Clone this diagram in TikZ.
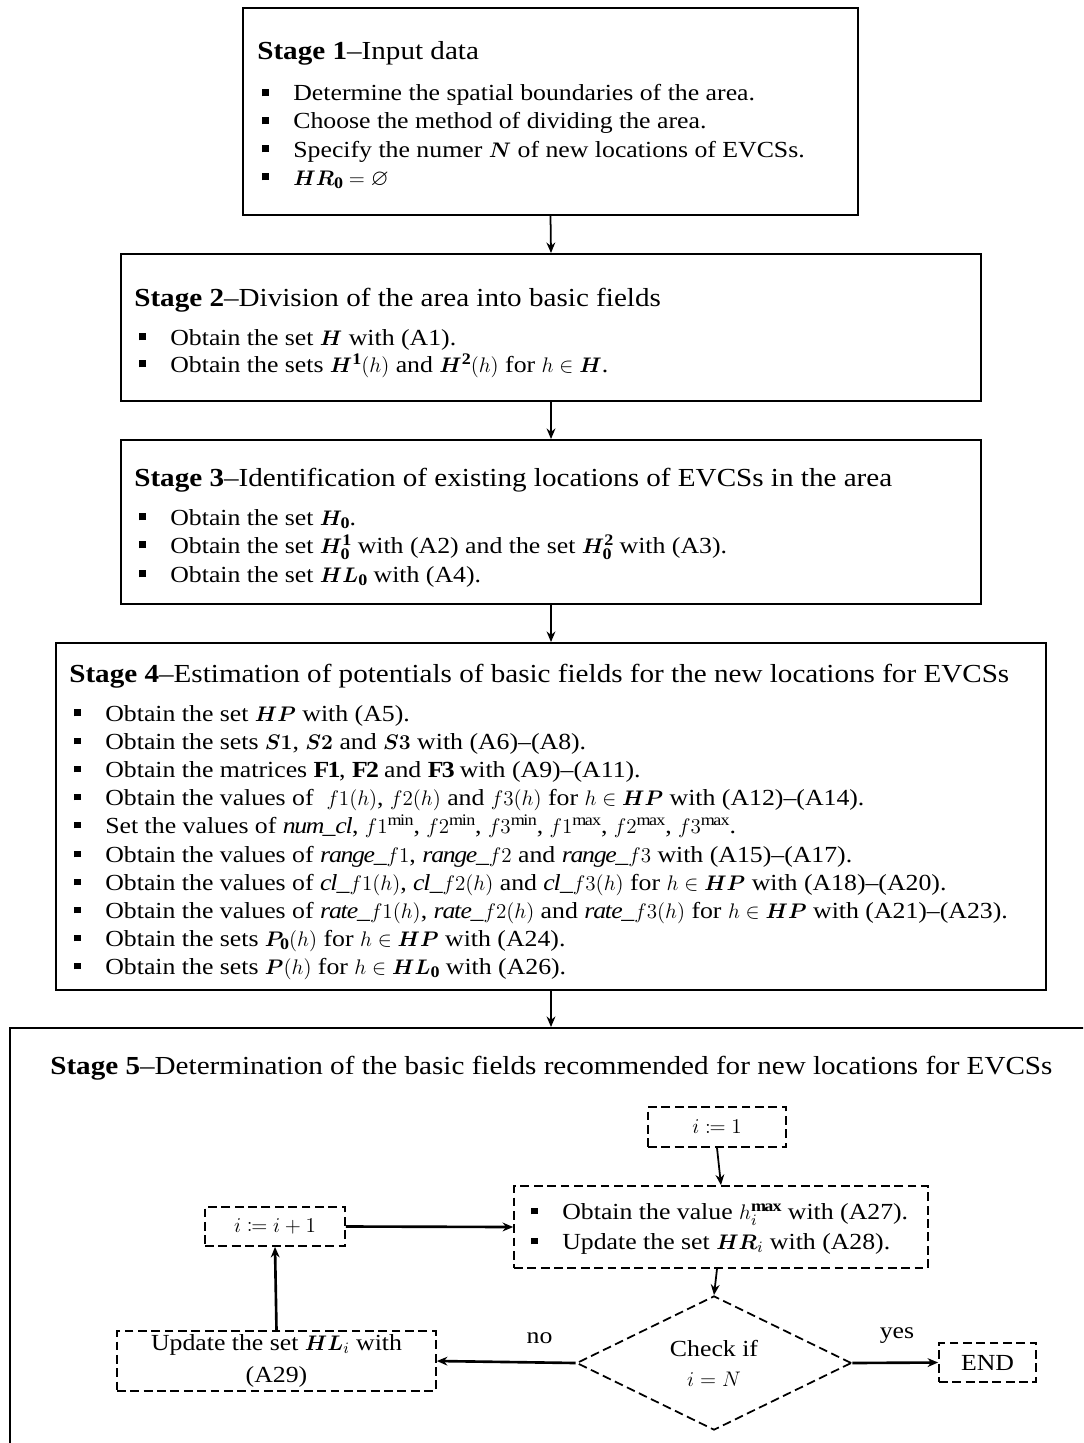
\documentclass[tikz,border=0pt]{standalone}
\usepackage{amsmath,amssymb,mathtools,bm}
\usepackage{fontspec}
\setmainfont{Liberation Serif}[FakeStretch=1.12]
\usetikzlibrary{arrows.meta,shapes.geometric,fit}
\newcommand\bodyfont{\fontsize{13.1}{16}\selectfont}
\newcommand\titlefont{\fontsize{14.8}{18}\selectfont}
\newcommand\sq{\makebox[0.62cm][l]{\rule[0.2em]{0.3em}{0.3em}}}
\newcommand\stg[2]{\textbf{Stage #1}–#2}
\begin{document}
\begin{tikzpicture}[x=0.02cm,y=-0.02cm,
  box/.style={draw, line width=1.1pt, inner sep=0pt},
  dbox/.style={draw, line width=1pt, dash pattern=on 5pt off 2.6pt, inner sep=2pt, font=\bodyfont, align=center},
  ln/.style={anchor=base west, inner sep=0pt, font=\bodyfont},
  ttl/.style={anchor=base west, inner sep=0pt, font=\titlefont},
  lab/.style={inner sep=0pt, font=\bodyfont},
  arr/.style={-{Stealth[length=6pt,width=5pt]}, line width=1pt},
  arrb/.style={-{Stealth[length=6pt,width=5pt]}, line width=1.5pt}]
\useasboundingbox (0,0) rectangle (1083,1443);
\fill[white] (0,0) rectangle (1083,1443);
\clip (0,0) rectangle (1083,1443);

% Stage boxes
\node[box, fit={(243,8) (858,215)}] (s1) {};
\node[box, fit={(121,254) (981,401)}] (s2) {};
\node[box, fit={(121,440) (981,604)}] (s3) {};
\node[box, fit={(56,643) (1046,990)}] (s4) {};
\node[box, fit={(10,1028) (1100,1480)}] (s5) {};

\draw[arr] (s1.south) -- (s2.north);
\draw[arr] (s2.south) -- (s3.north);
\draw[arr] (s3.south) -- (s4.north);
\draw[arr] (s4.south) -- (s4.south |- s5.north);

% Stage 1
\node[ttl] (t1) at (257,60) {\stg{1}{Input data}};
\node[ln] (l1a) at (262,101) {\sq Determine the spatial boundaries of the area.};
\node[ln] (l1b) at (262,129) {\sq Choose the method of dividing the area.};
\node[ln] (l1c) at (262,157) {\sq Specify the numer $\bm{N}$ of new locations of EVCSs.};
\node[ln] (l1d) at (262,185) {\sq $\bm{HR}_{\mathbf{0}}=\varnothing$};

% Stage 2
\node[ttl] (t2) at (134,306) {\stg{2}{Division of the area into basic fields}};
\node[ln] (l2a) at (139,345) {\sq Obtain the set $\bm{H}$ with (A1).};
\node[ln] (l2b) at (139,372) {\sq Obtain the sets $\bm{H}^{\mathbf{1}}(h)$ and $\bm{H}^{\mathbf{2}}(h)$ for $h\in\bm{H}$.};

% Stage 3
\node[ttl] (t3) at (134,486) {\stg{3}{Identification of existing locations of EVCSs in the area}};
\node[ln] (l3a) at (139,525) {\sq Obtain the set $\bm{H}_{\mathbf{0}}$.};
\node[ln] (l3b) at (139,553) {\sq Obtain the set $\bm{H}_{\mathbf{0}}^{\mathbf{1}}$ with (A2) and the set $\bm{H}_{\mathbf{0}}^{\mathbf{2}}$ with (A3).};
\node[ln] (l3c) at (139,582) {\sq Obtain the set $\bm{HL}_{\mathbf{0}}$ with (A4).};

% Stage 4
\node[ttl] (t4) at (69,682) {\stg{4}{Estimation of potentials of basic fields for the new locations for EVCSs}};
\node[ln] (l4a) at (74,721) {\sq Obtain the set $\bm{HP}$ with (A5).};
\node[ln] (l4b) at (74,749) {\sq Obtain the sets $\bm{S1}$, $\bm{S2}$ and $\bm{S3}$ with (A6)–(A8).};
\node[ln] (l4c) at (74,777) {\sq Obtain the matrices $\mathbf{F1}$, $\mathbf{F2}$ and $\mathbf{F3}$ with (A9)–(A11).};
\node[ln] (l4d) at (74,805) {\sq Obtain the values of \ $f1(h)$, $f2(h)$ and $f3(h)$ for $h\in\bm{HP}$ with (A12)–(A14).};
\node[ln] (l4e) at (74,833) {\sq Set the values of $\mathit{num\_cl}$, $f1^{\min}$, $f2^{\min}$, $f3^{\min}$, $f1^{\max}$, $f2^{\max}$, $f3^{\max}$.};
\node[ln] (l4f) at (74,862) {\sq Obtain the values of $\mathit{range\_}f1$, $\mathit{range\_}f2$ and $\mathit{range\_}f3$ with (A15)–(A17).};
\node[ln] (l4g) at (74,890) {\sq Obtain the values of $\mathit{cl\_}f1(h)$, $\mathit{cl\_}f2(h)$ and $\mathit{cl\_}f3(h)$ for $h\in\bm{HP}$ with (A18)–(A20).};
\node[ln] (l4h) at (74,918) {\sq Obtain the values of $\mathit{rate\_}f1(h)$, $\mathit{rate\_}f2(h)$ and $\mathit{rate\_}f3(h)$ for $h\in\bm{HP}$ with (A21)–(A23).};
\node[ln] (l4i) at (74,946) {\sq Obtain the sets $\bm{P}_{\mathbf{0}}(h)$ for $h\in\bm{HP}$ with (A24).};
\node[ln] (l4j) at (74,974) {\sq Obtain the sets $\bm{P}(h)$ for $h\in\bm{HL}_{\mathbf{0}}$ with (A26).};

% Stage 5
\node[ttl] (t5) at (50,1074) {\stg{5}{Determination of the basic fields recommended for new locations for EVCSs}};

\node[dbox, minimum width=2.76cm, minimum height=0.8cm] (i1) at (717,1127) {$i\coloneqq 1$};
\node[dbox, minimum width=8.28cm, minimum height=1.64cm] (m) at (721,1227) {};
\node[ln] (ma) at (531,1219) {\sq Obtain the value $h_i^{\mathbf{max}}$ with (A27).};
\node[ln] (mb) at (531,1249) {\sq Update the set $\bm{HR}_i$ with (A28).};
\node[dbox, minimum width=2.8cm, minimum height=0.78cm] (inc) at (275,1226.5) {$i\coloneqq i+1$};
\node[draw, diamond, line width=1pt, dash pattern=on 5pt off 2.6pt, inner sep=0pt,
      minimum width=5.5cm, minimum height=2.22cm, font=\bodyfont, align=center] (d) at (714,1363)
      {Check if\\[1pt] $i=N$};
\node[dbox, minimum width=6.38cm, minimum height=1.12cm] (hl) at (276.5,1361)
      {Update the set $\bm{HL}_i$ with\\[2pt] (A29)};
\node[dbox, minimum width=1.94cm, minimum height=0.78cm] (end) at (987.5,1362.5) {END};

\draw[arr] (i1.south) -- (m.north);
\draw[arr] ([xshift=-0.08cm]m.south) -- (d.north);
\draw[arrb] (d.west) -- node[lab, above=10pt, pos=0.26] (no) {no} (hl.east);
\draw[arrb] (d.east) -- node[lab, above=10pt, pos=0.52] (yes) {yes} (end.west);
\draw[arrb] (hl.north) -- (inc.south);
\draw[arrb] (inc.east) -- (m.west);
\end{tikzpicture}
\end{document}
